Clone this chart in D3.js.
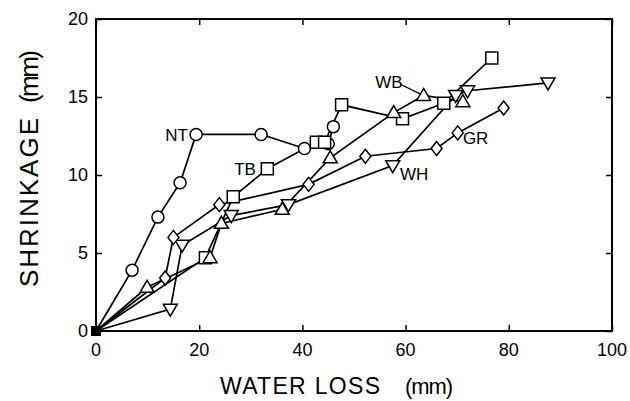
<!DOCTYPE html>
<html>
<head>
<meta charset="utf-8">
<script src="https://cdn.jsdelivr.net/npm/d3@7"></script>
<style>
  body { margin: 0; background: #fff; }
  svg text { font-family: "Liberation Sans", Arial, sans-serif; fill: #000; }
</style>
</head>
<body>
<div id="chart-area"></div>
<script>
// water loss (mm) vs shrinkage (mm)
var ntX = [0, 7.0, 12.0, 16.3, 19.4, 32.0, 40.4, 45.0, 46.0];
var ntY = [0, 3.9, 7.3, 9.5, 12.6, 12.6, 11.7, 12.0, 13.1];

var tbX = [0, 21.2, 26.6, 33.2, 42.7, 44.3, 47.6, 59.4, 67.4, 76.7];
var tbY = [0, 4.7, 8.6, 10.4, 12.1, 12.1, 14.5, 13.6, 14.6, 17.5];

var wbX = [0, 9.9, 22.1, 24.3, 36.1, 45.4, 57.7, 63.5, 71.1];
var wbY = [0, 2.8, 4.7, 6.9, 7.8, 11.1, 14.0, 15.1, 14.7];

var whX = [0, 14.4, 16.7, 26.2, 37.3, 57.5, 69.7, 72.0, 87.6];
var whY = [0, 1.4, 5.5, 7.4, 8.1, 10.6, 15.1, 15.4, 15.9];

var grX = [0, 13.4, 15.0, 23.9, 41.2, 52.2, 66.0, 70.1, 79.0];
var grY = [0, 3.4, 6.0, 8.1, 9.4, 11.2, 11.7, 12.7, 14.3];

var xTicks = [0, 20, 40, 60, 80, 100];
var yTicks = [0, 5, 10, 15, 20];

// label name, anchor, x, y (data units)
var labelNames = ["NT", "TB", "WB", "GR", "WH"];
var labelAnchor = ["end", "end", "start", "start", "start"];
var labelX = [17.8, 31.0, 54.1, 71.1, 58.9];
var labelY = [12.2, 10.0, 15.6, 12.0, 9.7];
var wbLeader = [[59.1, 15.8], [62.8, 15.2]];

function init() {
    var svgWidth = 630;
    var svgHeight = 401;

    var svg = d3.select("#chart-area")
        .append("svg")
        .attr("width", svgWidth)
        .attr("height", svgHeight);

    var xScale = d3.scaleLinear().domain([0, 100]).range([96, 612]);
    var yScale = d3.scaleLinear().domain([0, 20]).range([331, 19]);

    // frame
    svg.append("rect")
        .attr("x", xScale(0))
        .attr("y", yScale(20))
        .attr("width", xScale(100) - xScale(0))
        .attr("height", yScale(0) - yScale(20))
        .attr("fill", "none")
        .attr("stroke", "#000")
        .attr("stroke-width", 2);

    // inward ticks on all four sides
    svg.append("g")
        .attr("transform", "translate(0," + yScale(0) + ")")
        .call(d3.axisBottom(xScale).tickValues(xTicks).tickSize(-6).tickFormat(""))
        .call(g => g.select(".domain").remove());
    svg.append("g")
        .attr("transform", "translate(0," + yScale(20) + ")")
        .call(d3.axisTop(xScale).tickValues(xTicks).tickSize(-6).tickFormat(""))
        .call(g => g.select(".domain").remove());
    svg.append("g")
        .attr("transform", "translate(" + xScale(0) + ",0)")
        .call(d3.axisLeft(yScale).tickValues(yTicks).tickSize(-6).tickFormat(""))
        .call(g => g.select(".domain").remove());
    svg.append("g")
        .attr("transform", "translate(" + xScale(100) + ",0)")
        .call(d3.axisRight(yScale).tickValues(yTicks).tickSize(-6).tickFormat(""))
        .call(g => g.select(".domain").remove());
    svg.selectAll(".tick line").attr("stroke-width", 1.5);

    // tick labels
    svg.selectAll(".xlab")
        .data(xTicks)
        .enter().append("text")
        .attr("class", "xlab")
        .attr("x", d => xScale(d))
        .attr("y", yScale(0) + 25)
        .attr("text-anchor", "middle")
        .attr("font-size", "18px")
        .text(d => d);

    svg.selectAll(".ylab")
        .data(yTicks)
        .enter().append("text")
        .attr("class", "ylab")
        .attr("x", xScale(0) - 8)
        .attr("y", d => yScale(d) + 6)
        .attr("text-anchor", "end")
        .attr("font-size", "18px")
        .text(d => d);

    // axis titles
    svg.append("text")
        .attr("x", 220).attr("y", 394)
        .attr("font-size", "23px")
        .attr("textLength", 160)
        .text("WATER LOSS");
    svg.append("text")
        .attr("x", 405).attr("y", 394)
        .attr("font-size", "22px")
        .attr("textLength", 48)
        .text("(mm)");

    svg.append("text")
        .attr("transform", "translate(38,287) rotate(-90)")
        .attr("font-size", "26px")
        .attr("textLength", 169)
        .text("SHRINKAGE");
    svg.append("text")
        .attr("transform", "translate(38,103) rotate(-90)")
        .attr("font-size", "26px")
        .attr("textLength", 53)
        .text("(mm)");

    var series = [
        {x: ntX, y: ntY, shape: "circle"},
        {x: tbX, y: tbY, shape: "square"},
        {x: wbX, y: wbY, shape: "up"},
        {x: whX, y: whY, shape: "down"},
        {x: grX, y: grY, shape: "diamond"}
    ];

    var line = d3.line()
        .x(d => xScale(d[0]))
        .y(d => yScale(d[1]));

    series.forEach(s => {
        var pts = s.x.map((v, i) => [v, s.y[i]]);
        svg.append("path")
            .datum(pts)
            .attr("d", line)
            .attr("fill", "none")
            .attr("stroke", "#000")
            .attr("stroke-width", 1.7);
    });

    var shapes = {
        circle: "M6,0A6,6 0 1,1 -6,0A6,6 0 1,1 6,0Z",
        square: "M-6,-6H6V6H-6Z",
        up: "M0,-7L7,5H-7Z",
        down: "M0,7L7,-5H-7Z",
        diamond: "M0,-7L5.5,0L0,7L-5.5,0Z"
    };

    series.forEach(s => {
        var pts = s.x.map((v, i) => [v, s.y[i]]).filter(p => p[0] > 0);
        svg.selectAll(null)
            .data(pts)
            .enter().append("path")
            .attr("d", shapes[s.shape])
            .attr("transform", d => "translate(" + xScale(d[0]) + "," + yScale(d[1]) + ")")
            .attr("fill", "#fff")
            .attr("stroke", "#000")
            .attr("stroke-width", 1.5);
    });

    // origin point (all series overlap)
    svg.append("rect")
        .attr("x", xScale(0) - 5)
        .attr("y", yScale(0) - 5)
        .attr("width", 10)
        .attr("height", 10)
        .attr("fill", "#000");

    // series labels
    labelNames.forEach((name, i) => {
        svg.append("text")
            .attr("x", xScale(labelX[i]))
            .attr("y", yScale(labelY[i]))
            .attr("text-anchor", labelAnchor[i])
            .attr("font-size", "17px")
            .text(name);
    });

    svg.append("line")
        .attr("x1", xScale(wbLeader[0][0]))
        .attr("y1", yScale(wbLeader[0][1]))
        .attr("x2", xScale(wbLeader[1][0]))
        .attr("y2", yScale(wbLeader[1][1]))
        .attr("stroke", "#000")
        .attr("stroke-width", 1.2);
}

window.addEventListener('load', init, false)
</script>
</body>
</html>
